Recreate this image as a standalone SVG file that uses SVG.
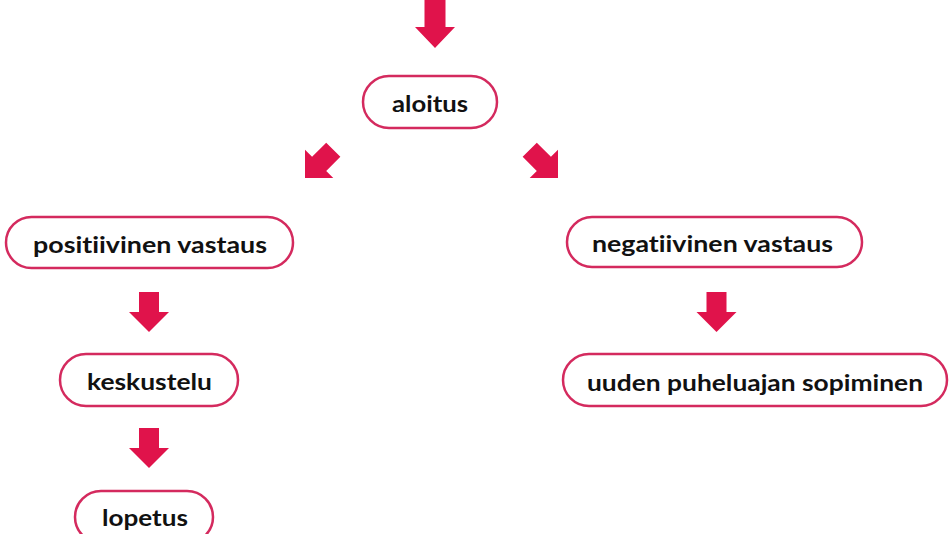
<svg xmlns="http://www.w3.org/2000/svg" width="950" height="534" viewBox="0 0 950 534">
<style>
.box{fill:#fff;stroke:#d42a5e;stroke-width:2.5}
.lbl{font-family:Lato,"Open Sans","Liberation Sans",sans-serif;font-weight:bold;font-size:23px;fill:#111;text-anchor:middle;font-variant-ligatures:none;font-feature-settings:"liga" 0,"dlig" 0}
.arr{fill:#e0134b}
</style>
<defs>
<path id="arrow" d="M0,0 L-20,-20 L-10,-20 L-10,-40 L10,-40 L10,-20 L20,-20 Z"/>
</defs>
<rect width="950" height="534" fill="#fff"/>
<g id="connectors" class="arr">
<path d="M435,48 L415,27 L424.5,27 L424.5,0 L445.5,0 L445.5,27 L455,27 Z"/>
<use href="#arrow" transform="translate(305,178) rotate(45)"/>
<use href="#arrow" transform="translate(558,178) rotate(-45)"/>
<use href="#arrow" transform="translate(149,332)"/>
<use href="#arrow" transform="translate(149,468)"/>
<use href="#arrow" transform="translate(716.5,332)"/>
</g>
<g id="aloitus">
<rect class="box" x="363" y="76" width="134" height="52" rx="26"/>
<text class="lbl" x="430" y="112" textLength="76" lengthAdjust="spacingAndGlyphs">aloitus</text>
</g>
<g id="positiivinen">
<rect class="box" x="6" y="217" width="287" height="51" rx="25.5"/>
<text class="lbl" x="150" y="253" textLength="234" lengthAdjust="spacingAndGlyphs">positiivinen vastaus</text>
</g>
<g id="negatiivinen">
<rect class="box" x="567" y="217" width="295" height="50" rx="25"/>
<text class="lbl" x="712.5" y="252" textLength="241" lengthAdjust="spacingAndGlyphs">negatiivinen vastaus</text>
</g>
<g id="keskustelu">
<rect class="box" x="60" y="354" width="178" height="52" rx="26"/>
<text class="lbl" x="149.5" y="390" textLength="125" lengthAdjust="spacingAndGlyphs">keskustelu</text>
</g>
<g id="uuden">
<rect class="box" x="563" y="354" width="384" height="52" rx="26"/>
<text class="lbl" x="755" y="391" textLength="336" lengthAdjust="spacingAndGlyphs">uuden puheluajan sopiminen</text>
</g>
<g id="lopetus">
<rect class="box" x="75" y="491" width="138" height="52" rx="26"/>
<text class="lbl" x="145" y="526" textLength="86" lengthAdjust="spacingAndGlyphs">lopetus</text>
</g>
</svg>
